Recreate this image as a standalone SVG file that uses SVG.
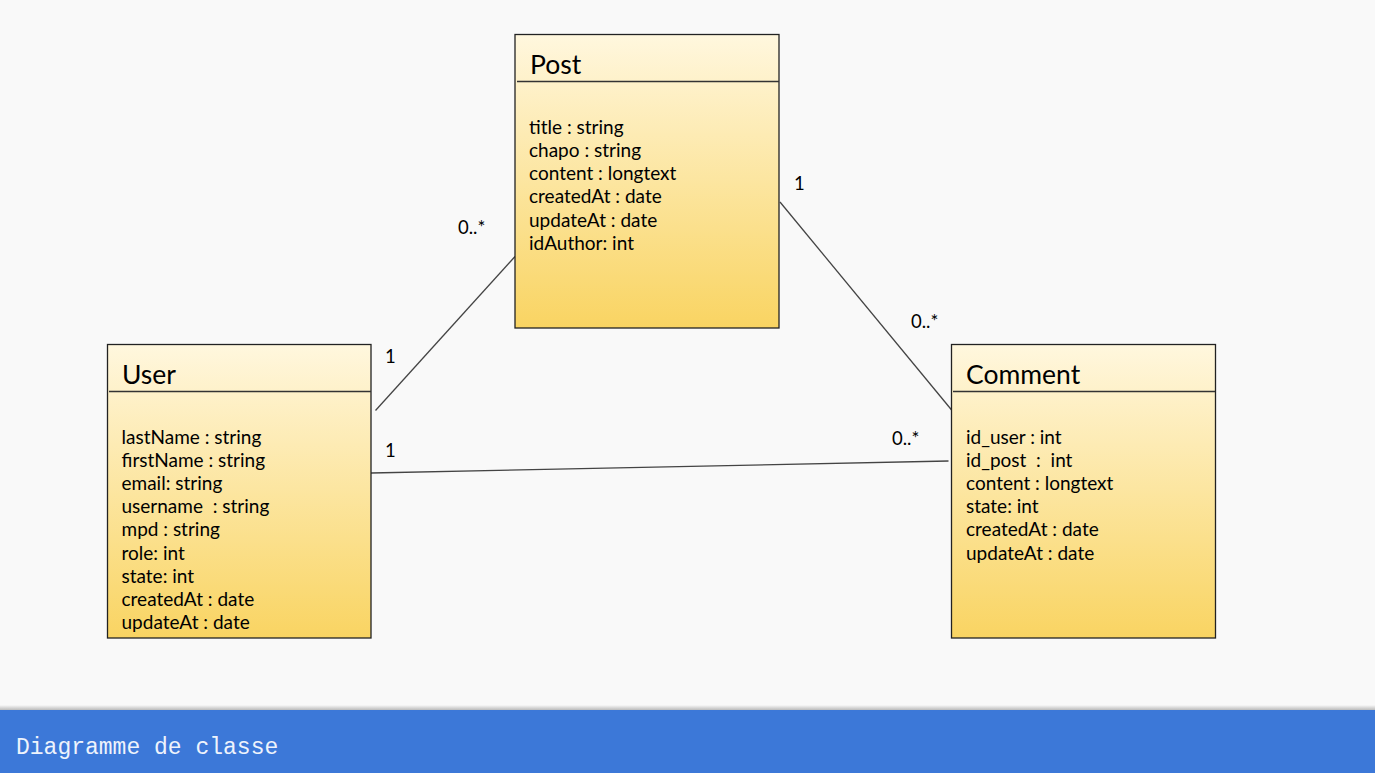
<svg xmlns="http://www.w3.org/2000/svg" width="1375" height="773" viewBox="0 0 1375 773">
<defs>
<linearGradient id="fill" x1="0" y1="0" x2="0" y2="1">
<stop offset="0" stop-color="#fff7de"/>
<stop offset="1" stop-color="#f9d462"/>
</linearGradient>
<linearGradient id="shadow" x1="0" y1="0" x2="0" y2="1">
<stop offset="0" stop-color="#000" stop-opacity="0"/>
<stop offset="1" stop-color="#000" stop-opacity="0.25"/>
</linearGradient>
<style>
.box{fill:url(#fill);stroke:#222;stroke-width:1.3}
.div{stroke:#333;stroke-width:1.3}
.title{font-family:Lato,"Liberation Sans",sans-serif;font-size:26.5px;fill:#000}
.attr{font-family:Lato,"Liberation Sans",sans-serif;font-size:19px;fill:#000;white-space:pre}
.lbl{font-family:Lato,"Liberation Sans",sans-serif;font-size:18.5px;fill:#000}
.conn{stroke:#444;stroke-width:1.3;fill:none}
.foot{font-family:"Liberation Mono","Courier New",monospace;font-size:23px;fill:#eef3fc}
</style>
</defs>
<rect width="1375" height="773" fill="#f9f9f9"/>
<g id="connectors">
<line class="conn" x1="375.5" y1="410.5" x2="515" y2="256.5"/>
<line class="conn" x1="780" y1="202" x2="954.5" y2="413.5"/>
<line class="conn" x1="371" y1="473" x2="948.5" y2="461"/>
<text class="lbl" x="458" y="234">0..*</text>
<text class="lbl" x="385" y="363">1</text>
<text class="lbl" x="385" y="457">1</text>
<text class="lbl" x="794" y="190">1</text>
<text class="lbl" x="911" y="328">0..*</text>
<text class="lbl" x="892" y="445">0..*</text>
</g>
<g id="post" xml:space="preserve">
<rect class="box" x="515" y="34.5" width="264" height="293.5"/>
<line class="div" x1="517" y1="81.5" x2="779" y2="81.5"/>
<text class="title" x="530" y="73.5">Post</text>
<text class="attr" x="529" y="133.5">title : string</text>
<text class="attr" x="529" y="156.8">chapo : string</text>
<text class="attr" x="529" y="180.1">content : longtext</text>
<text class="attr" x="529" y="203.4">createdAt : date</text>
<text class="attr" x="529" y="226.7">updateAt : date</text>
<text class="attr" x="529" y="250">idAuthor: int</text>
</g>
<g id="user" xml:space="preserve">
<rect class="box" x="107.5" y="344.5" width="263.5" height="293.5"/>
<line class="div" x1="109" y1="391.5" x2="371" y2="391.5"/>
<text class="title" x="122" y="383.5">User</text>
<text class="attr" x="121.5" y="443.5">lastName : string</text>
<text class="attr" x="121.5" y="466.7">firstName : string</text>
<text class="attr" x="121.5" y="489.9">email: string</text>
<text class="attr" x="121.5" y="513.1">username  : string</text>
<text class="attr" x="121.5" y="536.3">mpd : string</text>
<text class="attr" x="121.5" y="559.5">role: int</text>
<text class="attr" x="121.5" y="582.7">state: int</text>
<text class="attr" x="121.5" y="605.9">createdAt : date</text>
<text class="attr" x="121.5" y="629.1">updateAt : date</text>
</g>
<g id="comment" xml:space="preserve">
<rect class="box" x="951.5" y="344.5" width="264" height="293.5"/>
<line class="div" x1="953" y1="391.5" x2="1215" y2="391.5"/>
<text class="title" x="966" y="383.5">Comment</text>
<text class="attr" x="966" y="443.5">id_user : int</text>
<text class="attr" x="966" y="466.7">id_post  :  int</text>
<text class="attr" x="966" y="489.9">content : longtext</text>
<text class="attr" x="966" y="513.1">state: int</text>
<text class="attr" x="966" y="536.3">createdAt : date</text>
<text class="attr" x="966" y="559.5">updateAt : date</text>
</g>
<g id="footer">
<rect x="0" y="705" width="1375" height="5" fill="url(#shadow)"/>
<rect x="0" y="710" width="1375" height="63" fill="#3c78d8"/>
<text class="foot" x="16" y="753.5" xml:space="preserve">Diagramme de classe</text>
</g>
</svg>
